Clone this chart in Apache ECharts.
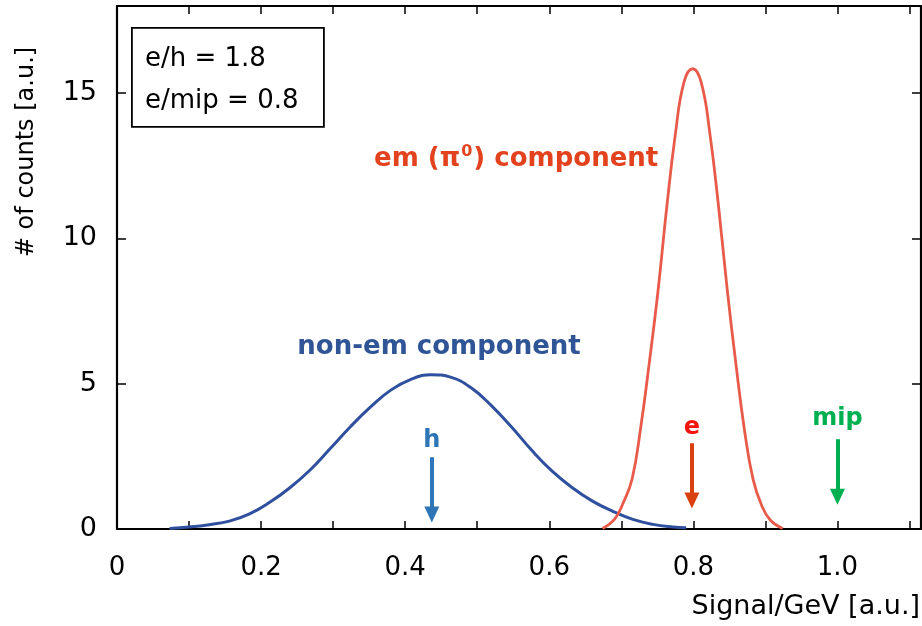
<!DOCTYPE html>
<html>
<head>
<meta charset="utf-8">
<script src="https://cdn.jsdelivr.net/npm/echarts@6/dist/echarts.min.js"></script>
<style>
  html, body { margin: 0; padding: 0; background: #ffffff; }
  #chart { width: 922px; height: 626px; }
</style>
</head>
<body>
<div id="chart"></div>
<script>
// Hadron shower signal distribution: non-em and em (pi0) components
const nonEmX = [0.073, 0.100, 0.128, 0.156, 0.184, 0.212, 0.240, 0.268, 0.296, 0.324, 0.352, 0.380, 0.408, 0.436, 0.464, 0.492, 0.520, 0.548, 0.576, 0.604, 0.632, 0.660, 0.688, 0.716, 0.744, 0.772, 0.790];
const nonEmY = [0.02, 0.07, 0.15, 0.27, 0.52, 0.92, 1.42, 2.03, 2.77, 3.52, 4.20, 4.78, 5.15, 5.31, 5.22, 4.85, 4.24, 3.50, 2.70, 1.99, 1.42, 0.96, 0.61, 0.33, 0.16, 0.07, 0.04];

const emX = [0.674, 0.691, 0.703, 0.715, 0.727, 0.739, 0.751, 0.763, 0.775, 0.787, 0.799, 0.811, 0.823, 0.835, 0.847, 0.859, 0.871, 0.883, 0.895, 0.907, 0.924];
const emY = [0.02, 0.35, 0.92, 1.72, 3.5, 5.75, 8.2, 11.05, 13.58, 15.38, 15.84, 15.36, 13.6, 11.1, 8.25, 5.7, 3.4, 1.7, 0.8, 0.3, 0.02];

// Reference signal markers (arrows): h, e, mip
const markerNames = ['h', 'e', 'mip'];
const markerX = [0.437, 0.798, 1.0];
const markerTop = [2.47, 2.95, 3.09];
const markerEnd = [0.5, 0.98, 1.11];
const markerLabelY = [3.05, 3.5, 3.81];

// Component labels
const compNames = ['non-em component', 'em (π0) component'];
const compX = [0.447, 0.554];
const compY = [6.25, 12.74];

// Axis ticks
const xTicks = [0, 0.2, 0.4, 0.6, 0.8, 1.0];
const yTicks = [0, 5, 10, 15];

const boxLines = ['e/h = 1.8', 'e/mip = 0.8'];

const FONT = '"DejaVu Sans"';
const C = {
  nonEm: '#2f4f9f',
  em: '#e85a4a',
  nonEmText: '#2f5597',
  emText: '#e2431e',
  markerText: ['#2e75b6', '#f5150f', '#00b050'],
  markerArrow: ['#2e75b6', '#d9400f', '#00b050']
};

const chart = echarts.init(document.getElementById('chart'), null, { renderer: 'canvas' });

const pairs = (xs, ys) => xs.map((x, i) => [x, ys[i]]);
const xLabelFmt = v => (v === 0 ? '0' : v.toFixed(1));

const axisLineStyle = { color: '#000', width: 2.2 };
const tickStyle = { color: '#000', width: 1.5 };

function frameX(pos, withLabels) {
  return {
    type: 'value', min: 0, max: 1.116, interval: 0.2,
    position: pos,
    axisLine: { show: true, onZero: false, lineStyle: axisLineStyle },
    axisTick: { show: true, inside: true, length: 8, lineStyle: tickStyle },
    minorTick: { show: true, splitNumber: 2, length: 8, lineStyle: tickStyle },
    splitLine: { show: false },
    axisLabel: withLabels ? {
      show: true, showMaxLabel: false, margin: 26,
      formatter: v => (xTicks.some(t => Math.abs(t - v) < 1e-6) ? xLabelFmt(v) : ''),
      fontFamily: FONT, fontSize: 26, color: '#000'
    } : { show: false }
  };
}

function frameY(pos, withLabels) {
  return {
    type: 'value', min: 0, max: 18, interval: 5,
    position: pos,
    axisLine: { show: true, onZero: false, lineStyle: axisLineStyle },
    axisTick: { show: true, inside: true, length: 9, lineStyle: tickStyle },
    splitLine: { show: false },
    axisLabel: withLabels ? {
      show: true, showMaxLabel: false, margin: 20,
      formatter: v => (yTicks.includes(v) ? String(v) : ''),
      fontFamily: FONT, fontSize: 27, color: '#000'
    } : { show: false }
  };
}

const option = {
  animation: false,
  backgroundColor: '#ffffff',
  grid: { left: 117, right: 1, top: 6, bottom: 97 },
  xAxis: [frameX('bottom', true), frameX('top', false)],
  yAxis: [frameY('left', true), frameY('right', false)],
  graphic: [
    // box with the response ratios
    {
      type: 'rect', left: 131, top: 27, z: 10,
      shape: { width: 192, height: 99 },
      style: { fill: '#fff', stroke: '#000', lineWidth: 1.8 }
    },
    {
      type: 'text', x: 145, y: 59, z: 11,
      style: { text: boxLines[0], font: '26px ' + FONT, fill: '#000', verticalAlign: 'middle' }
    },
    {
      type: 'text', x: 145, y: 101, z: 11,
      style: { text: boxLines[1], font: '26px ' + FONT, fill: '#000', verticalAlign: 'middle' }
    },
    // axis titles
    {
      type: 'text', z: 11, x: 27, y: 152, rotation: Math.PI / 2,
      style: { text: '# of counts [a.u.]', font: '24px ' + FONT, fill: '#000', align: 'center', verticalAlign: 'middle' }
    },
    {
      type: 'text', z: 11, x: 920, y: 607,
      style: { text: 'Signal/GeV [a.u.]', font: '27px ' + FONT, fill: '#000', align: 'right', verticalAlign: 'middle' }
    }
  ],
  series: [
    {
      name: 'non-em', type: 'line', xAxisIndex: 0, yAxisIndex: 0,
      data: pairs(nonEmX, nonEmY), smooth: 0.45, showSymbol: false,
      lineStyle: { color: C.nonEm, width: 3 }, z: 3
    },
    {
      name: 'em', type: 'line', xAxisIndex: 0, yAxisIndex: 0,
      data: pairs(emX, emY), smooth: 0.45, showSymbol: false,
      lineStyle: { color: C.em, width: 2.8 }, z: 4
    },
    {
      // arrows for the h, e and mip signals
      name: 'markers', type: 'line', xAxisIndex: 0, yAxisIndex: 0,
      data: [], showSymbol: false,
      markLine: {
        silent: true, animation: false,
        symbol: ['none', 'triangle'], symbolSize: [15, 16], symbolRotate: 180,
        label: { show: false },
        data: markerX.map((x, i) => [
          { coord: [x, markerTop[i]], lineStyle: { color: C.markerArrow[i], width: 4, type: 'solid' }, itemStyle: { color: C.markerArrow[i] } },
          { coord: [x, markerEnd[i]] }
        ])
      }
    },
    {
      name: 'marker labels', type: 'scatter', xAxisIndex: 0, yAxisIndex: 0,
      symbolSize: 0, silent: true, itemStyle: { opacity: 1 },
      data: markerNames.map((n, i) => ({
        value: [markerX[i], markerLabelY[i]],
        label: {
          show: true, position: 'inside', formatter: n, opacity: 1,
          fontFamily: FONT, fontWeight: 'bold', fontSize: 24, color: C.markerText[i]
        }
      }))
    },
    {
      name: 'component labels', type: 'scatter', xAxisIndex: 0, yAxisIndex: 0,
      symbolSize: 0, silent: true, itemStyle: { opacity: 1 },
      data: [
        {
          value: [compX[0], compY[0]],
          label: {
            show: true, position: 'inside', formatter: compNames[0], opacity: 1,
            fontFamily: FONT, fontWeight: 'bold', fontSize: 26, color: C.nonEmText
          }
        },
        {
          value: [compX[1], compY[1]],
          label: {
            show: true, position: 'inside', opacity: 1,
            formatter: '{a|em (π}{s|0}{a|) component}',
            rich: {
              a: { fontFamily: FONT, fontWeight: 'bold', fontSize: 26, color: C.emText, lineHeight: 30 },
              s: { fontFamily: FONT, fontWeight: 'bold', fontSize: 16, color: C.emText, verticalAlign: 'top', lineHeight: 30, padding: [0, 1, 12, 1] }
            }
          }
        }
      ]
    }
  ]
};

chart.setOption(option);
</script>
</body>
</html>
